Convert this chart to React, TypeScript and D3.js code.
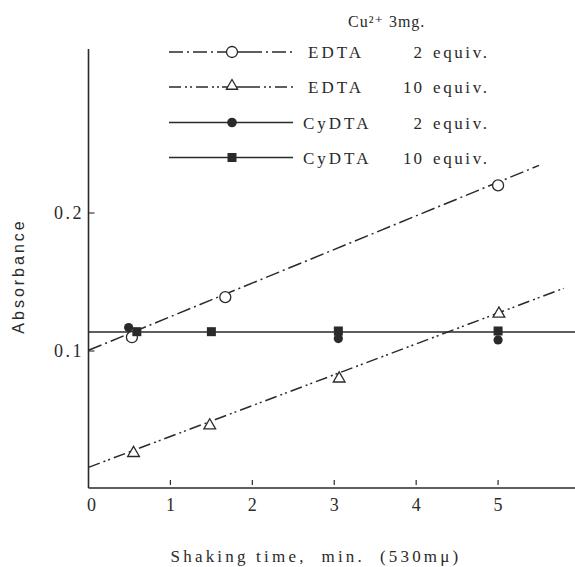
import React from "react";
import * as d3 from "d3";

const W = 575;
const H = 567;

// x tick values and y tick values
const xTicks = [0, 1, 2, 3, 4, 5];
const yTicks = [0.1, 0.2];

// EDTA 2 equiv (open circles)
const edta2Time = [0.53, 1.67, 5.0];
const edta2Abs = [0.11, 0.139, 0.22];
const edta2FitTime = [0, 5.5];
const edta2FitAbs = [0.1005, 0.2345];

// EDTA 10 equiv (open triangles)
const edta10Time = [0.55, 1.48, 3.06, 5.01];
const edta10Abs = [0.026, 0.046, 0.08, 0.127];
const edta10FitTime = [0, 5.8];
const edta10FitAbs = [0.0157, 0.1454];

// CyDTA 2 equiv (filled circles)
const cy2Time = [0.49, 3.05, 5.0];
const cy2Abs = [0.117, 0.109, 0.108];

// CyDTA 10 equiv (filled squares)
const cy10Time = [0.59, 1.5, 3.05, 5.0];
const cy10Abs = [0.114, 0.114, 0.1145, 0.1145];
const cyFitTime = [0, 6];
const cyFitAbs = [0.1138, 0.1138];

// legend
const legendNames = ["EDTA", "EDTA", "CyDTA", "CyDTA"];
const legendEquiv = ["2", "10", "2", "10"];
const legendTitle = "Cu²⁺ 3mg.";

const INK = "#2a2a2a";
const DASH_EDTA2 = "14 4 2 4";
const DASH_EDTA10 = "12 4 2 3 2 4";

export default function App() {
  const x = d3.scaleLinear().domain([0, 6]).range([88.5, 580]);
  const y = d3.scaleLinear().domain([0, 0.2]).range([489, 213]);
  const line = d3
    .line<[number, number]>()
    .x((d) => x(d[0]))
    .y((d) => y(d[1]));
  const zip = (a: number[], b: number[]) =>
    a.map((v, i) => [v, b[i]] as [number, number]);

  const tri = d3.symbol().type(d3.symbolTriangle).size(60)();
  const triL = d3.symbol().type(d3.symbolTriangle).size(55)();

  const serif = "'Liberation Serif', 'DejaVu Serif', serif";
  const sans = "'Liberation Sans', Arial, sans-serif";

  const legendY = [52, 87, 122.5, 157.5];
  const lx0 = 169;
  const lx1 = 293;
  const lm = 232;

  return (
    <svg
      width={W}
      height={H}
      style={{ position: "absolute", left: 0, top: 0, background: "#fff" }}
    >
      <rect width={W} height={H} fill="#fff" />
      {/* axes */}
      <line x1={x(0)} x2={x(0)} y1={49} y2={488} stroke={INK} strokeWidth={1.6} />
      <line x1={x(0)} x2={W} y1={488} y2={488} stroke={INK} strokeWidth={1.6} />
      {xTicks.slice(1).map((t) => (
        <line key={"xt" + t} x1={x(t)} x2={x(t)} y1={480} y2={485} stroke={INK} strokeWidth={1.2} />
      ))}
      {xTicks.map((t) => (
        <text
          key={"xl" + t}
          x={x(t) + (t === 0 ? 3 : 0)}
          y={511}
          textAnchor="middle"
          fontFamily={serif}
          fontSize={18}
          fill={INK}
        >
          {t}
        </text>
      ))}
      {yTicks.map((t) => (
        <line key={"yt" + t} x1={x(0)} x2={x(0) + 6} y1={y(t)} y2={y(t)} stroke={INK} strokeWidth={1.1} />
      ))}
      {yTicks.map((t) => (
        <text
          key={"yl" + t}
          x={84}
          y={y(t) + 6}
          textAnchor="end"
          fontFamily={serif}
          fontSize={18}
          letterSpacing={2.5}
          fill={INK}
        >
          {t.toFixed(1)}
        </text>
      ))}
      <text
        transform="translate(24,276) rotate(-90)"
        textAnchor="middle"
        fontFamily={sans}
        fontSize={16}
        letterSpacing={3}
        fill={INK}
      >
        Absorbance
      </text>
      <text
        x={316}
        y={562}
        textAnchor="middle"
        fontFamily={serif}
        fontSize={17}
        letterSpacing={3.2}
        fill={INK}
        style={{ whiteSpace: "pre" }}
      >
        {"Shaking time,  min.  (530mμ)"}
      </text>

      {/* fit lines */}
      <path d={line(zip(edta2FitTime, edta2FitAbs)) || ""} fill="none" stroke={INK} strokeWidth={1.5} strokeDasharray={DASH_EDTA2} />
      <path d={line(zip(edta10FitTime, edta10FitAbs)) || ""} fill="none" stroke={INK} strokeWidth={1.5} strokeDasharray={DASH_EDTA10} />
      <path d={line(zip(cyFitTime, cyFitAbs)) || ""} fill="none" stroke={INK} strokeWidth={1.5} />

      {/* markers */}
      {zip(edta2Time, edta2Abs).map((d, i) => (
        <circle key={"e2" + i} cx={x(d[0])} cy={y(d[1])} r={5.5} fill="#fff" stroke={INK} strokeWidth={1.3} />
      ))}
      {zip(edta10Time, edta10Abs).map((d, i) => (
        <path key={"e10" + i} d={tri || ""} transform={`translate(${x(d[0])},${y(d[1])})`} fill="#fff" stroke={INK} strokeWidth={1.3} />
      ))}
      {zip(cy10Time, cy10Abs).map((d, i) => (
        <rect key={"c10" + i} x={x(d[0]) - 4.5} y={y(d[1]) - 4.5} width={9} height={9} fill={INK} />
      ))}
      {zip(cy2Time, cy2Abs).map((d, i) => (
        <circle key={"c2" + i} cx={x(d[0])} cy={y(d[1])} r={4.6} fill={INK} />
      ))}

      {/* legend */}
      <text x={348} y={27} fontFamily={serif} fontSize={16} letterSpacing={1} fill={INK}>
        {legendTitle}
      </text>
      {legendNames.map((name, i) => {
        const ly = legendY[i];
        const dash = i === 0 ? DASH_EDTA2 : i === 1 ? DASH_EDTA10 : undefined;
        return (
          <g key={"lg" + i}>
            {dash ? (
              <>
                <line x1={lx0} x2={lm - 10} y1={ly} y2={ly} stroke={INK} strokeWidth={1.4} strokeDasharray={dash} />
                <line x1={lm - 10} x2={lm + 24} y1={ly} y2={ly} stroke={INK} strokeWidth={1.4} />
                <line x1={lm + 24} x2={lx1} y1={ly} y2={ly} stroke={INK} strokeWidth={1.4} strokeDasharray={dash} strokeDashoffset={8} />
              </>
            ) : (
              <line x1={lx0} x2={lx1} y1={ly} y2={ly} stroke={INK} strokeWidth={1.4} />
            )}
            {i === 0 && <circle cx={lm} cy={ly} r={5.5} fill="#fff" stroke={INK} strokeWidth={1.3} />}
            {i === 1 && <path d={triL || ""} transform={`translate(${lm},${ly - 1})`} fill="#fff" stroke={INK} strokeWidth={1.3} />}
            {i === 2 && <circle cx={lm} cy={ly} r={4.8} fill={INK} />}
            {i === 3 && <rect x={lm - 4.5} y={ly - 4.5} width={9} height={9} fill={INK} />}
            <text
              x={i < 2 ? 308 : 303}
              y={ly + 6}
              fontFamily={serif}
              fontSize={17}
              letterSpacing={3}
              fill={INK}
            >
              {name}
            </text>
            <text x={424} y={ly + 6} textAnchor="end" fontFamily={serif} fontSize={17} letterSpacing={2} fill={INK}>
              {legendEquiv[i]}
            </text>
            <text x={433} y={ly + 6} fontFamily={serif} fontSize={17} letterSpacing={2.6} fill={INK}>
              equiv.
            </text>
          </g>
        );
      })}
    </svg>
  );
}
